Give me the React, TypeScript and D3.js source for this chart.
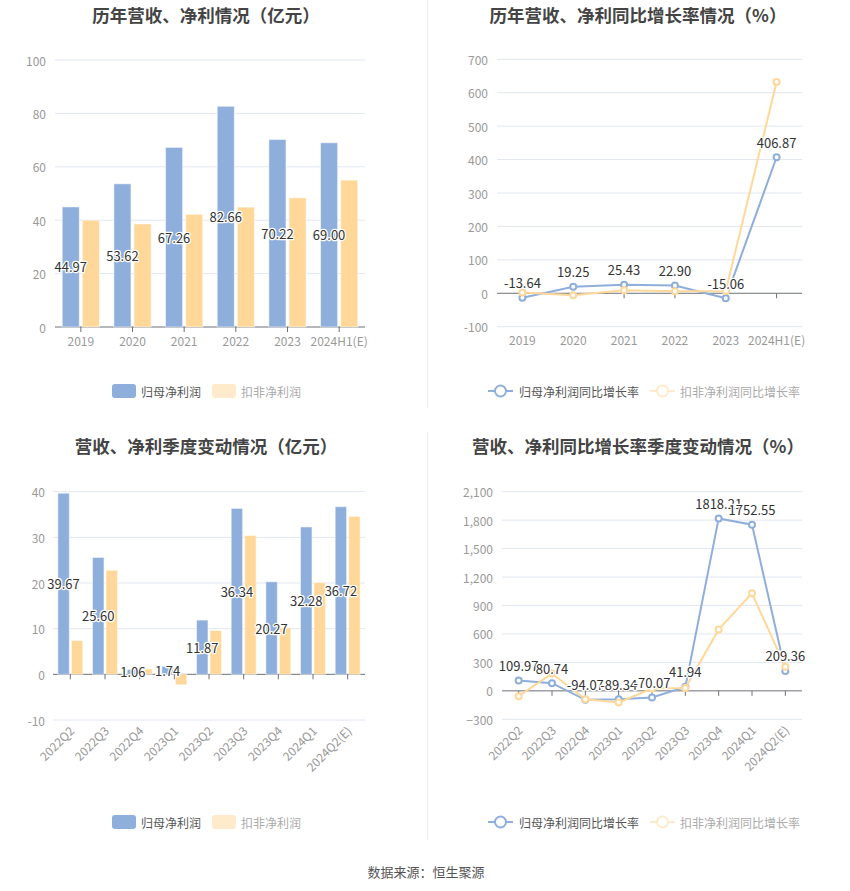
import React from "react";
import * as d3 from "d3";

const yearCats = ["2019", "2020", "2021", "2022", "2023", "2024H1(E)"];
const yearNet = [44.97, 53.62, 67.26, 82.66, 70.22, 69.0];
const yearDeducted = [40.0, 38.6, 42.2, 44.9, 48.4, 55.0];
const yearNetGrowth = [-13.64, 19.25, 25.43, 22.9, -15.06, 406.87];
const yearDeductedGrowth = [2, -6, 9, 6, 7, 632];

const quarterCats = ["2022Q2", "2022Q3", "2022Q4", "2023Q1", "2023Q2", "2023Q3", "2023Q4", "2024Q1", "2024Q2(E)"];
const quarterNet = [39.67, 25.6, 1.06, 1.74, 11.87, 36.34, 20.27, 32.28, 36.72];
const quarterDeducted = [7.4, 22.8, 1.2, -2.3, 9.6, 30.4, 10.2, 20.1, 34.6];
const quarterNetGrowth = [109.97, 80.74, -94.07, -89.34, -70.07, 41.94, 1818.21, 1752.55, 209.36];
const quarterDeductedGrowth = [-56, 184, -88, -123, 25, 30, 648, 1028, 253];

const ticksTL = [0, 20, 40, 60, 80, 100];
const ticksTR = [-100, 0, 100, 200, 300, 400, 500, 600, 700];
const ticksBL = [-10, 0, 10, 20, 30, 40];
const ticksBR = [-300, 0, 300, 600, 900, 1200, 1500, 1800, 2100];

const BLUE = "#8eaedb";
const YELLOW = "#ffd899";
const FONT = "'Noto Sans CJK SC', 'Noto Sans', sans-serif";
const GRID = "#e0e6f1";
const AXIS = "#6e7079";
const LABEL = "#999";

type Frame = { x0: number; x1: number; yTop: number; yBot: number; domain: [number, number] };

function Axes({ f, cats, ticks, rotate, fmt, labelRight }: { f: Frame; cats: string[]; ticks: number[]; rotate: boolean; fmt: (v: number) => string; labelRight: number }) {
  const y = d3.scaleLinear().domain(f.domain).range([f.yBot, f.yTop]);
  const x = d3.scaleBand().domain(cats).range([f.x0, f.x1]);
  const zero = y(0);
  return (
    <g>
      {ticks.map((t) => (
        <g key={t}>
          {t !== 0 && <line x1={f.x0} x2={f.x1} y1={y(t)} y2={y(t)} stroke={GRID} strokeWidth={1} />}
          <text x={labelRight} y={y(t)} textAnchor="end" dominantBaseline="central" fontSize={12} fill={LABEL} fontFamily={FONT}>
            {fmt(t)}
          </text>
        </g>
      ))}
      <line x1={f.x0} x2={f.x1} y1={zero} y2={zero} stroke={AXIS} strokeWidth={1} />
      {cats.map((c) => {
        const cx = (x(c) as number) + x.bandwidth() / 2;
        return (
          <g key={c}>
            <line x1={cx} x2={cx} y1={zero} y2={zero + 5} stroke={AXIS} strokeWidth={1} />
            {rotate ? (
              <text transform={`translate(${cx + 1},${f.yBot + 8}) rotate(-45)`} textAnchor="end" dominantBaseline="central" fontSize={12} fill={LABEL} fontFamily={FONT}>
                {c}
              </text>
            ) : (
              <text x={cx} y={f.yBot + 13} textAnchor="middle" dominantBaseline="central" fontSize={12} fill={LABEL} fontFamily={FONT}>
                {c}
              </text>
            )}
          </g>
        );
      })}
    </g>
  );
}

function Halo({ x, y, text }: { x: number; y: number; text: string }) {
  return (
    <text x={x} y={y} textAnchor="middle" dominantBaseline="central" fontSize={13} fill="#333" stroke="#fff" strokeWidth={2.5} paintOrder="stroke" strokeLinejoin="round" fontFamily={FONT}>
      {text}
    </text>
  );
}

function Bars({ f, cats, a, b }: { f: Frame; cats: string[]; a: number[]; b: number[] }) {
  const y = d3.scaleLinear().domain(f.domain).range([f.yBot, f.yTop]);
  const x = d3.scaleBand().domain(cats).range([f.x0, f.x1]);
  const bw = x.bandwidth();
  const w = bw * 0.33;
  const gap = bw * 0.06;
  const rect = (v: number, xx: number, color: string, k: string) => (
    <rect key={k} x={xx} y={Math.min(y(v), y(0))} width={w} height={Math.abs(y(v) - y(0))} fill={color} stroke="rgba(255,255,255,0.5)" strokeWidth={1} />
  );
  return (
    <g>
      {cats.map((c, i) => {
        const cx = (x(c) as number) + bw / 2;
        return (
          <g key={c}>
            {rect(a[i], cx - gap / 2 - w, BLUE, "a")}
            {rect(b[i], cx + gap / 2, YELLOW, "b")}
          </g>
        );
      })}
      {cats.map((c, i) => {
        const cx = (x(c) as number) + bw / 2;
        return <Halo key={c} x={cx - gap / 2 - w / 2} y={(y(a[i]) + y(0)) / 2} text={a[i].toFixed(2)} />;
      })}
    </g>
  );
}

function Lines({ f, cats, a, b }: { f: Frame; cats: string[]; a: number[]; b: number[] }) {
  const y = d3.scaleLinear().domain(f.domain).range([f.yBot, f.yTop]);
  const x = d3.scaleBand().domain(cats).range([f.x0, f.x1]);
  const cx = (i: number) => (x(cats[i]) as number) + x.bandwidth() / 2;
  const line = d3.line<number>().x((_, i) => cx(i)).y((v) => y(v));
  const series = (vals: number[], color: string) => (
    <g>
      <path d={line(vals) || ""} fill="none" stroke={color} strokeWidth={2} />
      {vals.map((v, i) => (
        <circle key={i} cx={cx(i)} cy={y(v)} r={3} fill="#fff" stroke={color} strokeWidth={2} />
      ))}
    </g>
  );
  return (
    <g>
      {series(a, BLUE)}
      {series(b, YELLOW)}
      {a.map((v, i) => (
        <Halo key={i} x={cx(i)} y={y(v) - 15} text={v.toFixed(2)} />
      ))}
    </g>
  );
}

function BarLegend({ y }: { y: number }) {
  return (
    <g fontFamily={FONT} fontSize={12}>
      <rect x={112} y={y - 7} width={24} height={14} rx={3} fill={BLUE} />
      <text x={141} y={y} dominantBaseline="central" fill="#555">归母净利润</text>
      <rect x={212} y={y - 7} width={24} height={14} rx={3} fill="#ffebcc" />
      <text x={241} y={y} dominantBaseline="central" fill="#aaa">扣非净利润</text>
    </g>
  );
}

function LineLegend({ y }: { y: number }) {
  return (
    <g fontFamily={FONT} fontSize={12}>
      <line x1={488} x2={513} y1={y} y2={y} stroke={BLUE} strokeWidth={2} />
      <circle cx={500.5} cy={y} r={5.5} fill="#fff" stroke={BLUE} strokeWidth={2} />
      <text x={519} y={y} dominantBaseline="central" fill="#555">归母净利润同比增长率</text>
      <line x1={650} x2={675} y1={y} y2={y} stroke="#ffebcc" strokeWidth={2} />
      <circle cx={662.5} cy={y} r={5.5} fill="#fff" stroke="#ffebcc" strokeWidth={2} />
      <text x={680} y={y} dominantBaseline="central" fill="#aaa">扣非净利润同比增长率</text>
    </g>
  );
}

function Title({ x, y, text }: { x: number; y: number; text: string }) {
  return (
    <text x={x} y={y} textAnchor="middle" dominantBaseline="central" fontSize={17.5} fontWeight="bold" fill="#444" fontFamily={FONT}>
      {text}
    </text>
  );
}

export default function App() {
  const fTL: Frame = { x0: 55, x1: 365, yTop: 60, yBot: 327, domain: [0, 100] };
  const fTR: Frame = { x0: 497, x1: 802, yTop: 59.3, yBot: 326.7, domain: [-100, 700] };
  const fBL: Frame = { x0: 53, x1: 365, yTop: 491.7, yBot: 720, domain: [-10, 40] };
  const fBR: Frame = { x0: 502, x1: 802, yTop: 491.7, yBot: 719.3, domain: [-300, 2100] };
  const plain = (v: number) => String(v);
  const comma = d3.format(",");
  return (
    <div style={{ position: "absolute", left: 0, top: 0 }}>
      <svg width={850} height={891} style={{ display: "block", background: "#fff" }}>
        <line x1={427.5} x2={427.5} y1={0} y2={408} stroke="#eee" strokeWidth={1} />
        <line x1={427.5} x2={427.5} y1={432} y2={840} stroke="#eee" strokeWidth={1} />

        <Title x={206} y={14} text="历年营收、净利情况（亿元）" />
        <Title x={638} y={14} text="历年营收、净利同比增长率情况（%）" />
        <Title x={206} y={445} text="营收、净利季度变动情况（亿元）" />
        <Title x={638} y={445} text="营收、净利同比增长率季度变动情况（%）" />

        <Axes f={fTL} cats={yearCats} ticks={ticksTL} rotate={false} fmt={plain} labelRight={46} />
        <Bars f={fTL} cats={yearCats} a={yearNet} b={yearDeducted} />

        <Axes f={fTR} cats={yearCats} ticks={ticksTR} rotate={false} fmt={plain} labelRight={488} />
        <Lines f={fTR} cats={yearCats} a={yearNetGrowth} b={yearDeductedGrowth} />

        <Axes f={fBL} cats={quarterCats} ticks={ticksBL} rotate={true} fmt={plain} labelRight={45} />
        <Bars f={fBL} cats={quarterCats} a={quarterNet} b={quarterDeducted} />

        <Axes f={fBR} cats={quarterCats} ticks={ticksBR} rotate={true} fmt={comma} labelRight={493} />
        <Lines f={fBR} cats={quarterCats} a={quarterNetGrowth} b={quarterDeductedGrowth} />

        <BarLegend y={391} />
        <LineLegend y={391} />
        <BarLegend y={822} />
        <LineLegend y={822} />

        <text x={426} y={871} textAnchor="middle" dominantBaseline="central" fontSize={13} fill="#555" fontFamily={FONT}>
          数据来源：恒生聚源
        </text>
      </svg>
    </div>
  );
}
